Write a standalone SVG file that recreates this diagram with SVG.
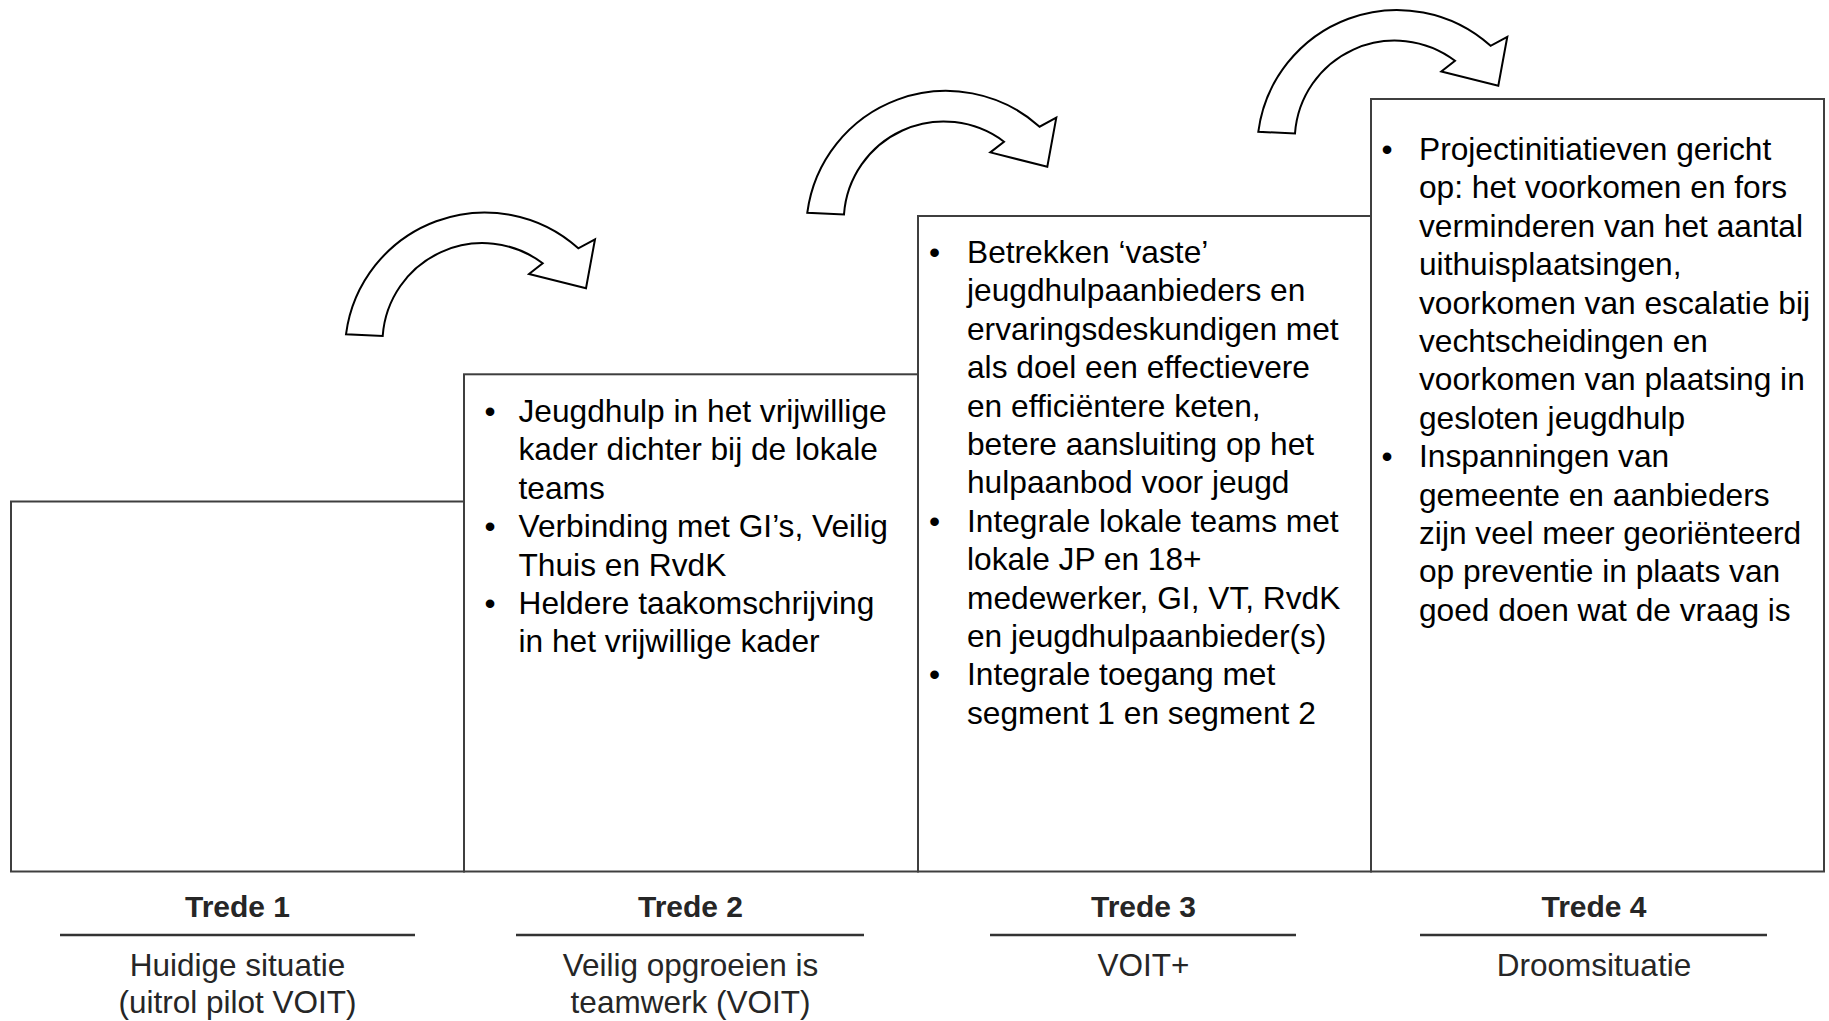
<svg xmlns="http://www.w3.org/2000/svg" width="1829" height="1021" viewBox="0 0 1829 1021">
<style>
.box{fill:#fff;stroke:#3f3f3f;stroke-width:2}
.arrow{fill:#fff;stroke:#000;stroke-width:2;stroke-linejoin:miter}
.body{font-family:"Liberation Sans",Arial,sans-serif;font-size:31.7px;fill:#000}
.step{font-family:"Liberation Sans",Arial,sans-serif;font-size:30px;font-weight:bold;fill:#262626;text-anchor:middle}
.sub{font-family:"Liberation Sans",Arial,sans-serif;font-size:31.5px;fill:#262626;text-anchor:middle}
.rule{stroke:#333;stroke-width:2.7}
</style>
<defs>
<path id="curvedArrow" d="M 346 334.3 A 140 140 0 0 1 578.3 248.3 L 595 239.3 L 586 288.3 L 529 274 L 542.7 263.3 A 100 100 0 0 0 382.7 336 Z"/>
</defs>
<rect width="1829" height="1021" fill="#fff"/>

<g id="connectors">
<use href="#curvedArrow" class="arrow"/>
<use href="#curvedArrow" class="arrow" transform="translate(461.3,-121.6)"/>
<use href="#curvedArrow" class="arrow" transform="translate(912.3,-202.5)"/>
</g>

<g id="step1">
<rect class="box" x="11" y="501.5" width="453" height="370"/>
<text class="step" x="237.5" y="917">Trede 1</text>
<line class="rule" x1="60" y1="935" x2="415" y2="935"/>
<text class="sub" x="237.5" y="976">Huidige situatie</text>
<text class="sub" x="237.5" y="1013">(uitrol pilot VOIT)</text>
</g>

<g id="step2">
<rect class="box" x="464" y="374.3" width="454" height="497.2"/>
<text class="body">
<tspan x="484.5" y="422">•</tspan>
<tspan x="484.5" y="537.2">•</tspan>
<tspan x="484.5" y="614">•</tspan>
</text>
<text class="body">
<tspan x="518.5" y="422">Jeugdhulp in het vrijwillige</tspan>
<tspan x="518.5" y="460.4">kader dichter bij de lokale</tspan>
<tspan x="518.5" y="498.8">teams</tspan>
<tspan x="518.5" y="537.2">Verbinding met GI’s, Veilig</tspan>
<tspan x="518.5" y="575.6">Thuis en RvdK</tspan>
<tspan x="518.5" y="614">Heldere taakomschrijving</tspan>
<tspan x="518.5" y="652.4">in het vrijwillige kader</tspan>
</text>
<text class="step" x="690.5" y="917">Trede 2</text>
<line class="rule" x1="516" y1="935" x2="864" y2="935"/>
<text class="sub" x="690.5" y="976">Veilig opgroeien is</text>
<text class="sub" x="690.5" y="1013">teamwerk (VOIT)</text>
</g>

<g id="step3">
<rect class="box" x="918" y="216" width="453" height="655.5"/>
<text class="body">
<tspan x="929" y="263">•</tspan>
<tspan x="929" y="531.8">•</tspan>
<tspan x="929" y="685.4">•</tspan>
</text>
<text class="body">
<tspan x="967" y="263">Betrekken ‘vaste’</tspan>
<tspan x="967" y="301.4">jeugdhulpaanbieders en</tspan>
<tspan x="967" y="339.8">ervaringsdeskundigen met</tspan>
<tspan x="967" y="378.2">als doel een effectievere</tspan>
<tspan x="967" y="416.6">en efficiëntere keten,</tspan>
<tspan x="967" y="455">betere aansluiting op het</tspan>
<tspan x="967" y="493.4">hulpaanbod voor jeugd</tspan>
<tspan x="967" y="531.8">Integrale lokale teams met</tspan>
<tspan x="967" y="570.2">lokale JP en 18+</tspan>
<tspan x="967" y="608.6">medewerker, GI, VT, RvdK</tspan>
<tspan x="967" y="647">en jeugdhulpaanbieder(s)</tspan>
<tspan x="967" y="685.4">Integrale toegang met</tspan>
<tspan x="967" y="723.8">segment 1 en segment 2</tspan>
</text>
<text class="step" x="1143.5" y="917">Trede 3</text>
<line class="rule" x1="990" y1="935" x2="1296" y2="935"/>
<text class="sub" x="1143.5" y="976">VOIT+</text>
</g>

<g id="step4">
<rect class="box" x="1371" y="99" width="453" height="772.5"/>
<text class="body">
<tspan x="1381.5" y="160">•</tspan>
<tspan x="1381.5" y="467.2">•</tspan>
</text>
<text class="body">
<tspan x="1419" y="160">Projectinitiatieven gericht</tspan>
<tspan x="1419" y="198.4">op: het voorkomen en fors</tspan>
<tspan x="1419" y="236.8">verminderen van het aantal</tspan>
<tspan x="1419" y="275.2">uithuisplaatsingen,</tspan>
<tspan x="1419" y="313.6">voorkomen van escalatie bij</tspan>
<tspan x="1419" y="352">vechtscheidingen en</tspan>
<tspan x="1419" y="390.4">voorkomen van plaatsing in</tspan>
<tspan x="1419" y="428.8">gesloten jeugdhulp</tspan>
<tspan x="1419" y="467.2">Inspanningen van</tspan>
<tspan x="1419" y="505.6">gemeente en aanbieders</tspan>
<tspan x="1419" y="544">zijn veel meer georiënteerd</tspan>
<tspan x="1419" y="582.4">op preventie in plaats van</tspan>
<tspan x="1419" y="620.8">goed doen wat de vraag is</tspan>
</text>
<text class="step" x="1594" y="917">Trede 4</text>
<line class="rule" x1="1420" y1="935" x2="1767" y2="935"/>
<text class="sub" x="1594" y="976">Droomsituatie</text>
</g>
</svg>
